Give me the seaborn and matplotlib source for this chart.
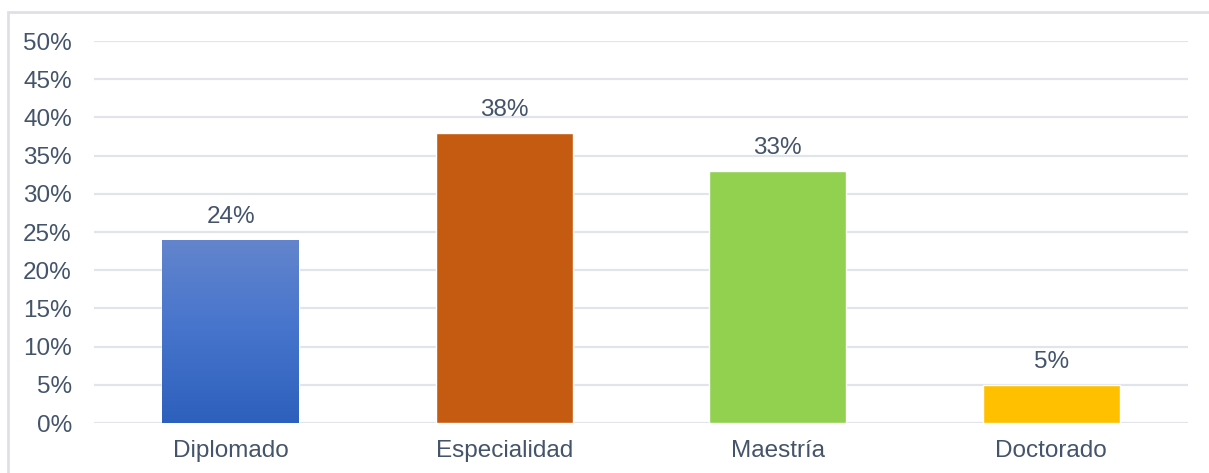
import numpy as np
import pandas as pd
import matplotlib
matplotlib.use("Agg")
import matplotlib.pyplot as plt
import seaborn as sns
from matplotlib.colors import LinearSegmentedColormap
from matplotlib.patches import Rectangle
from matplotlib.ticker import PercentFormatter

categories = ["Diplomado", "Especialidad", "Maestría", "Doctorado"]
values = [24, 38, 33, 5]
bar_colors = ["#4472C4", "#C55A11", "#92D050", "#FFC000"]
y_ticks = [0, 5, 10, 15, 20, 25, 30, 35, 40, 45, 50]

sns.set_theme(style="white")
plt.rcParams["font.family"] = ["Liberation Sans", "DejaVu Sans"]
text_color = "#44546A"
grid_color = "#E1E5EB"
fsize = 17.5

fig = plt.figure(figsize=(12.09, 4.73), dpi=100)
ax = fig.add_axes([0.0778, 0.1057, 0.9048, 0.8076])

df = pd.DataFrame({"Nivel": categories, "Porcentaje": values})
sns.barplot(data=df, x="Nivel", y="Porcentaje", hue="Nivel",
            palette=bar_colors, width=0.5, ax=ax, legend=False,
            saturation=1, zorder=3)

# gradient fill for the first bar
bar0 = ax.patches[0]
x0, y0 = bar0.get_x(), bar0.get_y()
w, h = bar0.get_width(), bar0.get_height()
grad_cmap = LinearSegmentedColormap.from_list("blue_grad", ["#2D60BC", "#4674CC", "#6385CD"])
grad = np.linspace(0, 1, 256).reshape(-1, 1)
im = ax.imshow(grad, cmap=grad_cmap, origin="lower", aspect="auto",
               extent=[x0, x0 + w, y0, y0 + h], zorder=4)
im.set_clip_path(bar0)

ax.set_xlim(-0.5, 3.5)
ax.set_ylim(0, 50)
ax.set_yticks(y_ticks)
ax.yaxis.set_major_formatter(PercentFormatter(decimals=0))
ax.grid(axis="y", color=grid_color, linewidth=1.6, zorder=0)
ax.set_axisbelow(True)
for s in ax.spines.values():
    s.set_visible(False)
ax.set_xlabel("")
ax.set_ylabel("")
ax.tick_params(axis="both", length=0, labelsize=fsize, colors=text_color)
ax.tick_params(axis="y", pad=16)
ax.tick_params(axis="x", pad=12)

for i, v in enumerate(values):
    ax.text(i, v + 1.5, f"{v}%", ha="center", va="bottom",
            fontsize=fsize, color=text_color, zorder=5)

# outer frame
fig.patches.append(Rectangle((8 / 1209, -0.1), 1.2, (473 - 12) / 473 + 0.1,
                             transform=fig.transFigure, fill=False,
                             edgecolor="#DDE1E7", linewidth=2))

fig.savefig("out.png", dpi=100)
